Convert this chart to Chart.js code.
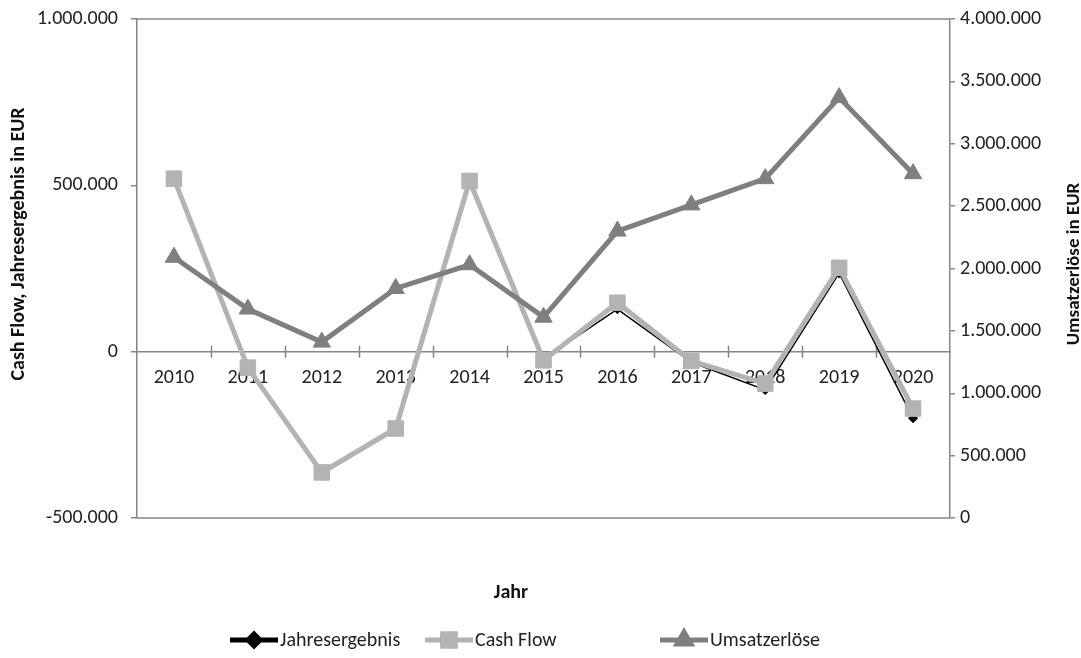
<!DOCTYPE html>
<html><head><meta charset="utf-8">
<script src="https://cdn.jsdelivr.net/npm/chart.js"></script>
<style>html,body{margin:0;padding:0;background:#fff}#wrap{width:1081px;height:658px}</style>
</head><body><div id="wrap"><canvas id="c" width="1081" height="658"></canvas></div>
<script>
const years = ['2010','2011','2012','2013','2014','2015','2016','2017','2018','2019','2020'];
const jahresergebnis = [518000, -52000, -368000, -236000, 510000, -22000, 128000, -32000, -115000, 236000, -200000];
const cashFlow = [520000, -48000, -363000, -231000, 513000, -26000, 147000, -28000, -96000, 252000, -171000];
const umsatzerloese = [2090000, 1675000, 1410000, 1840000, 2030000, 1610000, 2300000, 2510000, 2720000, 3370000, 2760000];
const leftTitle = 'Cash Flow, Jahresergebnis in EUR';
const rightTitle = 'Umsatzerlöse in EUR';
const xTitle = 'Jahr';

const FONT = 'Carlito, Lato, "Liberation Sans", sans-serif';
const AXIS = '#868686';
function fmt(v){ const s = String(Math.abs(v)).replace(/\B(?=(\d{3})+(?!\d))/g, '.'); return (v<0?'-':'') + s; }

const decor = {
  id: 'decor',
  beforeDatasetsDraw(chart){
    const {ctx, chartArea:a, scales} = chart;
    ctx.save();
    ctx.strokeStyle = AXIS; ctx.lineWidth = 1.5;
    ctx.beginPath();
    ctx.moveTo(a.left, a.top); ctx.lineTo(a.right, a.top);
    ctx.moveTo(a.left, a.bottom); ctx.lineTo(a.right, a.bottom);
    ctx.stroke();
    const x = scales.x, y0 = scales.y.getPixelForValue(0);
    const half = (x.getPixelForValue(1) - x.getPixelForValue(0)) / 2;
    ctx.beginPath();
    for (let i = 0; i < years.length - 1; i++) {
      const px = Math.round(x.getPixelForValue(i) + half) + 0.5;
      ctx.moveTo(px, y0 - 6); ctx.lineTo(px, y0 + 6);
    }
    ctx.stroke();
    ctx.restore();
  },
  afterDraw(chart){
    const {ctx, chartArea:a} = chart;
    ctx.save();
    ctx.fillStyle = '#111';
    ctx.textAlign = 'center'; ctx.textBaseline = 'middle';
    ctx.font = 'bold 20px ' + FONT;
    ctx.save(); ctx.translate(19, 244); ctx.rotate(-Math.PI/2); ctx.fillText(leftTitle, 0, 0); ctx.restore();
    ctx.font = 'bold 19px ' + FONT;
    ctx.save(); ctx.translate(1074, 264); ctx.rotate(-Math.PI/2); ctx.fillText(rightTitle, 0, 0); ctx.restore();
    ctx.font = 'bold 20px ' + FONT;
    ctx.fillText(xTitle, 511, 593);
    // legend
    const starts = [230, 425, 660];
    ctx.font = '20px ' + FONT;
    ctx.textAlign = 'left';
    chart.data.datasets.forEach((ds, k) => {
      const x0 = starts[k], yy = 640;
      ctx.strokeStyle = ds.borderColor; ctx.lineWidth = 5;
      ctx.beginPath(); ctx.moveTo(x0, yy); ctx.lineTo(x0 + 48, yy); ctx.stroke();
      ctx.fillStyle = ds.pointBackgroundColor; ctx.strokeStyle = ds.pointBackgroundColor;
      Chart.helpers.drawPoint(ctx, {pointStyle: ds.pointStyle, radius: ds.legendRadius, rotation: 0, borderWidth: 1}, x0 + 24, yy);
      ctx.fillStyle = '#222';
      ctx.fillText(ds.label, x0 + 50, yy + 1);
    });
    ctx.restore();
  }
};

const noPad = s => { s.paddingTop = 0; s.paddingBottom = 0; };

new Chart(document.getElementById('c'), {
  type: 'line',
  data: {
    labels: years,
    datasets: [
      { label: 'Jahresergebnis', data: jahresergebnis, yAxisID: 'y', order: 3,
        borderColor: '#000', backgroundColor: '#000', borderWidth: 1.5,
        pointStyle: 'rectRot', pointRadius: 4, pointBackgroundColor: '#000', pointBorderColor: '#000', legendRadius: 6 },
      { label: 'Cash Flow', data: cashFlow, yAxisID: 'y', order: 2,
        borderColor: '#b3b3b3', backgroundColor: '#b3b3b3', borderWidth: 5,
        pointStyle: 'rect', pointRadius: 11, pointBackgroundColor: '#b3b3b3', pointBorderColor: '#b3b3b3', pointBorderWidth: 1, legendRadius: 9 },
      { label: 'Umsatzerlöse', data: umsatzerloese, yAxisID: 'y2', order: 1,
        borderColor: '#7f7f7f', backgroundColor: '#7f7f7f', borderWidth: 5,
        pointStyle: 'triangle', pointRadius: 10, pointBackgroundColor: '#7f7f7f', pointBorderColor: '#7f7f7f', pointBorderWidth: 1, legendRadius: 8 }
    ]
  },
  options: {
    responsive: false, animation: false, devicePixelRatio: 1,
    layout: { padding: { top: 19, bottom: 140, left: 0, right: 0 } },
    plugins: { legend: { display: false }, tooltip: { enabled: false } },
    elements: { line: { tension: 0 } },
    scales: {
      x: {
        type: 'category', offset: true, position: { y: 0 },
        grid: { display: false },
        border: { color: AXIS, width: 1.5 },
        ticks: { color: '#222', font: { family: FONT, size: 20 }, padding: 6, maxRotation: 0, autoSkip: false }
      },
      y: {
        position: 'left', min: -500000, max: 1000000,
        afterFit: s => { s.width = 137; noPad(s); },
        afterBuildTicks: s => { s.ticks = [-500000, 0, 500000, 1000000].map(v => ({value: v})); },
        grid: { drawOnChartArea: false, color: AXIS, tickLength: 6, lineWidth: 1.5 },
        border: { color: AXIS, width: 1.5 },
        ticks: { color: '#222', font: { family: FONT, size: 20 }, padding: 13, callback: v => fmt(v) }
      },
      y2: {
        position: 'right', min: 0, max: 4000000,
        afterFit: s => { s.width = 131; noPad(s); },
        afterBuildTicks: s => { const t=[]; for (let v=0; v<=4000000; v+=500000) t.push({value:v}); s.ticks = t; },
        grid: { drawOnChartArea: false, color: AXIS, tickLength: 5, lineWidth: 1.5 },
        border: { color: AXIS, width: 1.5 },
        ticks: { color: '#222', font: { family: FONT, size: 20 }, padding: 5, callback: v => fmt(v) }
      }
    }
  },
  plugins: [decor]
});
</script></body></html>
